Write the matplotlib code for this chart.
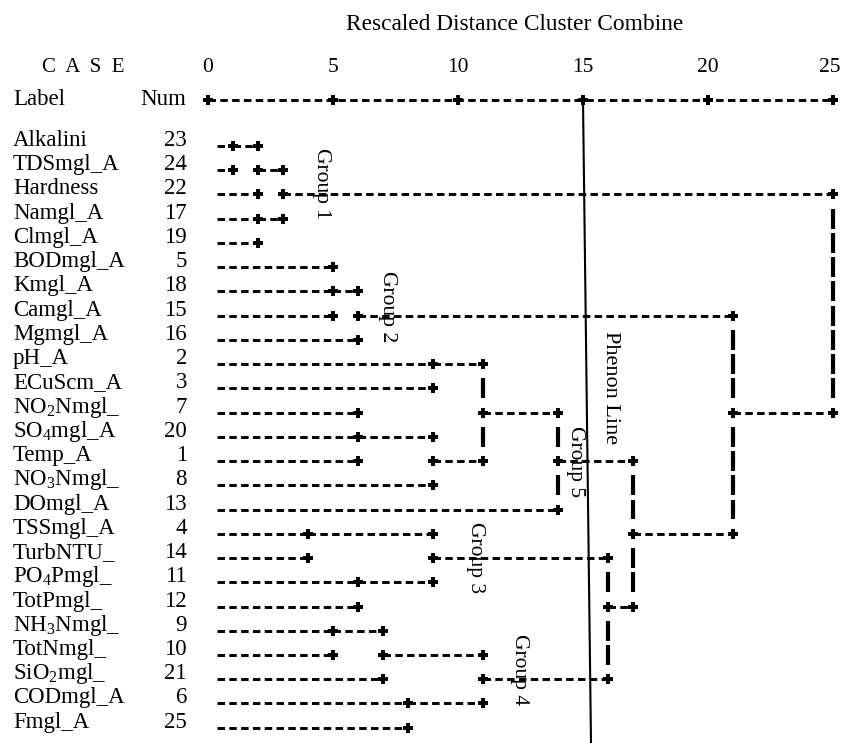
import matplotlib
matplotlib.use("Agg")
import matplotlib.pyplot as plt

plt.rcParams['font.family'] = ['Liberation Serif', 'DejaVu Serif']
plt.rcParams['mathtext.fontset'] = 'custom'
plt.rcParams['mathtext.rm'] = 'Liberation Serif'
plt.rcParams['mathtext.default'] = 'regular'
plt.rcParams['lines.scale_dashes'] = False

# ---- dendrogram data (SPSS average-linkage output, rescaled 0-25) ----
labels = ["Alkalini", "TDSmgl_A", "Hardness", "Namgl_A", "Clmgl_A",
          "BODmgl_A", "Kmgl_A", "Camgl_A", "Mgmgl_A", "pH_A",
          "ECuScm_A", r"NO$_{2}$Nmgl_", r"SO$_{4}$mgl_A", "Temp_A", r"NO$_{3}$Nmgl_",
          "DOmgl_A", "TSSmgl_A", "TurbNTU_", r"PO$_{4}$Pmgl_", "TotPmgl_",
          r"NH$_{3}$Nmgl_", "TotNmgl_", r"SiO$_{2}$mgl_", "CODmgl_A", "Fmgl_A"]
case_nums = [23, 24, 22, 17, 19, 5, 18, 15, 16, 2, 3, 7, 20, 1, 8,
             13, 4, 14, 11, 12, 9, 10, 21, 6, 25]
# distance at which each case first joins a cluster
leaf_join = [1, 1, 2, 2, 2, 5, 5, 5, 6, 9, 9, 6, 6, 6, 9,
             14, 4, 4, 6, 6, 5, 5, 7, 8, 8]
# horizontal cluster links: (row, from distance, to distance)
links = [(0, 1, 2), (1, 2, 3), (2, 3, 25), (3, 2, 3),
         (6, 5, 6), (7, 6, 21), (9, 9, 11), (11, 11, 14), (11, 21, 25),
         (12, 6, 9), (13, 9, 11), (13, 14, 17), (16, 4, 9), (16, 17, 21),
         (17, 9, 16), (18, 6, 9), (19, 16, 17), (20, 5, 7), (21, 7, 11),
         (22, 11, 16), (23, 8, 11)]
# vertical connectors spanning non-adjacent rows: (distance, top row, bottom row)
vertical_spans = [(11, 9, 13), (14, 11, 15), (17, 13, 19), (16, 17, 22),
                  (21, 7, 16), (25, 2, 11)]
scale_ticks = [0, 5, 10, 15, 20, 25]
phenon_level = 15.0
phenon_drift = 0.32
groups = ["Group 1", "Group 2", "Group 3", "Group 4", "Group 5"]

# ---- figure ----
fig = plt.figure(figsize=(8.42, 7.43), dpi=100)
ax = fig.add_axes([0, 0, 1, 1])
ax.set_xlim(-8.32, 25.36)
ax.set_ylim(24.63, -6.02)
ax.axis('off')

k = 'black'
dash = (0, (5.4, 3.1))
hdr_row = -1.9
lead = 0.35
lw_h = 2.1
ms_plus = 6.6

# header
ax.text(12.28, -4.99, "Rescaled Distance Cluster Combine", ha='center', va='center', fontsize=16.8)
ax.text(-6.65, -3.22, "C  A  S  E", ha='left', va='center', fontsize=15)
for t in scale_ticks[:-1]:
    ax.text(t, -3.22, str(t), ha='center', va='center', fontsize=15.5)
# last scale label kept flush with the right edge
ax.text(scale_ticks[-1] + 0.3, -3.22, str(scale_ticks[-1]), ha='right', va='center', fontsize=15.5)
ax.text(-7.8, hdr_row, "Label", ha='left', va='center', fontsize=16.5)
ax.text(-0.88, hdr_row, "Num", ha='right', va='center', fontsize=16.5)
ax.plot([scale_ticks[0], scale_ticks[-1]], [hdr_row, hdr_row], color=k, lw=lw_h, ls=dash)
ax.plot(scale_ticks, [hdr_row] * len(scale_ticks), 'P', color=k, ms=ms_plus, mew=0)

# case labels and numbers
for r, (lab, num) in enumerate(zip(labels, case_nums)):
    ax.text(-7.8, r, lab, ha='left', va='baseline', fontsize=16.5)
    ax.text(-0.84, r, str(num), ha='right', va='baseline', fontsize=16.5)

markers = set()
# leaf lines
for r, d in enumerate(leaf_join):
    ax.plot([lead, d], [r, r], color=k, lw=lw_h, ls=dash)
    markers.add((d, r))
# link lines
for r, a, b in links:
    ax.plot([a, b], [r, r], color=k, lw=lw_h, ls=dash)
    markers.add((a, r))
    markers.add((b, r))

# vertical connectors drawn as one bar per intermediate row
for d, top, bot in vertical_spans:
    for r in range(top + 1, bot):
        if (d, r) in markers:
            continue
        ax.plot([d, d], [r - 0.41, r + 0.41], color=k, lw=3.0, solid_capstyle='butt')

mx, my = zip(*sorted(markers))
ax.plot(mx, my, 'P', color=k, ms=ms_plus, mew=0)

# phenon line
ax.plot([phenon_level, phenon_level + phenon_drift], [hdr_row, 24.63], color=k, lw=1.5)
ax.text(16.12, 9.96, "Phenon Line", rotation=-90, ha='center', va='center', fontsize=16)

# group annotations
group_pos = [(4.52, 1.57), (7.2, 6.62), (10.68, 17.0), (12.44, 21.6), (14.68, 13.04)]
for g, (gx, gy) in zip(groups, group_pos):
    ax.text(gx, gy, g, rotation=-90, ha='center', va='center', fontsize=15.5)

fig.savefig("out.png", dpi=100, facecolor='white')
